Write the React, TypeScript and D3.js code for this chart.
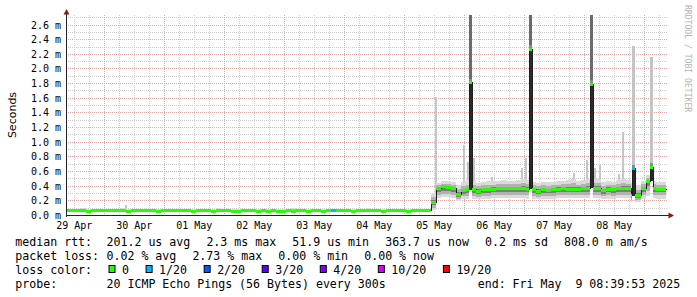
import React from 'react';
import * as d3 from 'd3';

// ---------- data ----------
const START = new Date(2025, 3, 29, 8, 39, 53);
const END = new Date(2025, 4, 9, 8, 39, 53);
const SAMPLE_HOURS = 2;
const Y_MAX = 2.73; // ms

// median rtt per 2h sample (ms)
const medianMs = [
  0.063, 0.062, 0.064, 0.062, 0.061, 0.063, 0.062, 0.064, 0.063, 0.062,
  0.062, 0.063, 0.061, 0.062, 0.064, 0.062, 0.063, 0.062, 0.061, 0.062,
  0.063, 0.062, 0.062, 0.064, 0.063, 0.061, 0.062, 0.063, 0.062, 0.061,
  0.062, 0.063, 0.062, 0.060, 0.061, 0.062, 0.062, 0.063, 0.061, 0.062,
  0.061, 0.062, 0.060, 0.061, 0.062, 0.061, 0.062, 0.063, 0.061, 0.062,
  0.062, 0.061, 0.062, 0.066, 0.062, 0.063, 0.062, 0.061, 0.062, 0.063,
  0.062, 0.063, 0.062, 0.061, 0.062, 0.063, 0.062, 0.062, 0.061, 0.062,
  0.063, 0.062, 0.064, 0.18, 0.37, 0.39, 0.38, 0.37, 0.29, 0.34,
  0.35, 0.35, 0.33, 0.35, 0.35, 0.36, 0.37, 0.37, 0.37, 0.37,
  0.37, 0.37, 0.36, 0.35, 0.33, 0.35, 0.34, 0.35, 0.36, 0.37,
  0.36, 0.36, 0.36, 0.37, 0.37, 0.37, 0.37, 0.34, 0.36, 0.35,
  0.37, 0.37, 0.37, 0.27, 0.27, 0.37, 0.47, 0.37, 0.36, 0.36,
];
const smokeLoMs = [
  0.05, 0.05, 0.05, 0.05, 0.05, 0.05, 0.05, 0.05, 0.05, 0.05,
  0.05, 0.05, 0.05, 0.05, 0.05, 0.05, 0.05, 0.05, 0.05, 0.05,
  0.05, 0.05, 0.05, 0.05, 0.05, 0.05, 0.05, 0.05, 0.05, 0.05,
  0.05, 0.05, 0.05, 0.05, 0.05, 0.05, 0.05, 0.05, 0.05, 0.05,
  0.05, 0.05, 0.05, 0.05, 0.05, 0.05, 0.05, 0.05, 0.05, 0.05,
  0.05, 0.05, 0.05, 0.05, 0.05, 0.05, 0.05, 0.05, 0.05, 0.05,
  0.05, 0.05, 0.05, 0.05, 0.05, 0.05, 0.05, 0.05, 0.05, 0.05,
  0.05, 0.05, 0.05, 0.07, 0.24, 0.25, 0.25, 0.24, 0.2, 0.22,
  0.23, 0.23, 0.22, 0.23, 0.23, 0.24, 0.24, 0.24, 0.24, 0.24,
  0.24, 0.24, 0.23, 0.23, 0.22, 0.23, 0.23, 0.23, 0.24, 0.24,
  0.24, 0.24, 0.24, 0.24, 0.24, 0.24, 0.24, 0.22, 0.23, 0.23,
  0.24, 0.24, 0.24, 0.18, 0.18, 0.23, 0.26, 0.24, 0.23, 0.23,
];
const smokeHiMs = [
  0.09, 0.09, 0.09, 0.1, 0.09, 0.09, 0.09, 0.09, 0.09, 0.09,
  0.09, 0.1, 0.09, 0.09, 0.09, 0.09, 0.09, 0.09, 0.095, 0.09,
  0.09, 0.09, 0.09, 0.09, 0.09, 0.09, 0.09, 0.09, 0.09, 0.09,
  0.1, 0.09, 0.09, 0.09, 0.09, 0.09, 0.09, 0.09, 0.09, 0.09,
  0.09, 0.09, 0.09, 0.09, 0.09, 0.1, 0.09, 0.09, 0.09, 0.09,
  0.09, 0.09, 0.09, 0.095, 0.09, 0.09, 0.09, 0.09, 0.09, 0.09,
  0.1, 0.09, 0.09, 0.09, 0.09, 0.09, 0.09, 0.09, 0.09, 0.09,
  0.09, 0.09, 0.09, 0.3, 0.45, 0.47, 0.47, 0.46, 0.42, 0.46,
  0.48, 0.47, 0.45, 0.46, 0.47, 0.47, 0.47, 0.48, 0.47, 0.47,
  0.48, 0.5, 0.48, 0.46, 0.45, 0.46, 0.46, 0.46, 0.47, 0.47,
  0.48, 0.5, 0.47, 0.48, 0.5, 0.5, 0.5, 0.46, 0.47, 0.46,
  0.48, 0.5, 0.49, 0.45, 0.42, 0.47, 0.55, 0.47, 0.46, 0.46,
];
// number of lost pings per sample (of 20)
const lossCount = [
  0, 0, 0, 0, 0, 0, 0, 0, 0, 0, 0, 0, 0, 0, 0, 0, 0, 0, 0, 0,
  0, 0, 0, 0, 0, 0, 0, 0, 0, 0, 0, 0, 0, 0, 0, 0, 0, 0, 0, 0,
  0, 0, 0, 0, 0, 0, 0, 0, 0, 0, 0, 0, 0, 1, 0, 0, 0, 0, 0, 0,
  0, 0, 0, 0, 0, 0, 0, 0, 0, 0, 0, 0, 0, 0, 0, 0, 0, 0, 0, 0,
  0, 0, 0, 0, 0, 0, 0, 0, 0, 0, 0, 0, 0, 0, 0, 0, 0, 0, 0, 0,
  0, 0, 0, 0, 0, 0, 0, 0, 0, 0, 0, 0, 0, 0, 0, 0, 0, 0, 0, 0,
];

// narrow outlier streaks (hours after start, max ping ms)
const streakHours = [23.6, 147.6, 158.8, 160.4, 162.8, 170.0, 182.0, 183.6, 202.8, 208.0, 211.2, 213.2, 220.8, 222.4];
const streakTopMs = [0.15, 1.62, 0.96, 0.73, 0.78, 0.53, 0.65, 0.78, 0.58, 0.76, 0.65, 0.69, 0.57, 1.14];

// short high-latency spikes (hours after start)
const spikeHours = [161.2, 185.2, 209.4, 226.4, 233.4];
const spikeMedianMs = [1.81, 2.27, 1.79, 0.64, 0.66];
const spikeTopMs = [2.9, 2.9, 2.9, 2.31, 2.16];
const spikeLoss = [0, 0, 0, 1, 0];
const SPIKE_HOURS = 1.2;

const yTickValues = [0, 0.2, 0.4, 0.6, 0.8, 1.0, 1.2, 1.4, 1.6, 1.8, 2.0, 2.2, 2.4, 2.6];

const lossLevels = ['0', '1/20', '2/20', '3/20', '4/20', '10/20', '19/20'];
const lossThresholds = [0, 1, 2, 3, 4, 10, 19];
const lossColors = ['#26ff00', '#00b8ff', '#0059ff', '#5e00ff', '#7e00ff', '#dd00ff', '#ff0000'];

const rttStats = ['201.2 us avg', '2.3 ms max', '51.9 us min', '363.7 us now', '0.2 ms sd', '808.0 m am/s'];
const lossStats = ['0.02 % avg', '2.73 % max', '0.00 % min', '0.00 % now'];
const probeText = '20 ICMP Echo Pings (56 Bytes) every 300s';
const endText = 'end: Fri May  9 08:39:53 2025';

// ---------- layout ----------
const W = 697;
const H = 297;
const X0 = 66, X1 = 666, YB = 215.5, YT = 15.5;
const MONO = '"DejaVu Sans Mono", monospace';
const CH = 6.99; // legend char advance

const lossColor = (n: number) => {
  let c = lossColors[0];
  lossThresholds.forEach((t, i) => { if (n >= t) c = lossColors[i]; });
  return c;
};

type Seg = { a: number; b: number; med: number; lo: number; hi: number; loss: number; spike: boolean; top: number; base: number };

export default function App() {
  const x = d3.scaleTime().domain([START, END]).range([X0, X1]);
  const y = d3.scaleLinear().domain([0, Y_MAX]).range([YB, YT]);
  const hx = (h: number) => x(new Date(START.getTime() + h * 3600e3));
  const crisp = (v: number) => Math.floor(v) + 0.5;

  // segments
  let segs: Seg[] = medianMs.map((m, i) => ({
    a: i * SAMPLE_HOURS, b: (i + 1) * SAMPLE_HOURS, med: m, lo: smokeLoMs[i], hi: smokeHiMs[i],
    loss: lossCount[i], spike: false, top: 0, base: m,
  }));
  spikeHours.forEach((h, k) => {
    const s0 = h, s1 = h + SPIKE_HOURS;
    const baseSeg = segs.find(s => s.a <= s0 && s.b > s0)!;
    const out: Seg[] = [];
    segs.forEach(s => {
      if (s.b <= s0 || s.a >= s1) { out.push(s); return; }
      if (s.a < s0) out.push({ ...s, b: s0 });
      if (s.b > s1) out.push({ ...s, a: s1 });
    });
    out.push({ a: s0, b: s1, med: spikeMedianMs[k], lo: baseSeg.med, hi: spikeTopMs[k], loss: spikeLoss[k], spike: true, top: spikeTopMs[k], base: baseSeg.med });
    segs = out.sort((p, q) => p.a - q.a);
  });

  const baseMedianAt = (h: number) => medianMs[Math.min(medianMs.length - 1, Math.floor(h / SAMPLE_HOURS))];

  // grid
  const minorX = d3.timeHour.every(6)!.range(START, END);
  const majorX = d3.timeDay.range(START, END);
  const minorY = d3.range(1, 28).map(k => k / 10);
  const labelDays = d3.timeDay.range(d3.timeDay.floor(START), END).map(d => d3.timeHour.offset(d, 12)).filter(d => d >= START && d <= END);
  const fmt = d3.timeFormat('%d %b');

  const pts: [number, number][] = [];
  segs.forEach(s => { const yy = crisp(y(s.med)); pts.push([hx(s.a) + 0.5, yy]); pts.push([hx(s.b) + 0.5, yy]); });
  const medPath = d3.line()(pts) || '';

  // legend layout
  const rttX: number[] = [];
  let cx = 106.5;
  rttStats.forEach(s => { rttX.push(cx); cx += s.length * CH + 16; });
  const lossX: number[] = [];
  cx = 106.5;
  lossStats.forEach(s => { lossX.push(cx); cx += s.length * CH + 16; });
  const boxX: number[] = [];
  cx = 108.5;
  lossLevels.forEach(s => { boxX.push(cx); cx += 13.5 + s.length * CH + 16.6; });

  const pre = { whiteSpace: 'pre' as const };

  return (
    <svg width={W} height={H} style={{ position: 'absolute', left: 0, top: 0, background: '#fff' }} xmlns="http://www.w3.org/2000/svg">
      <defs>
        <clipPath id="plot"><rect x={X0} y={15} width={X1 - X0 + 1} height={201} /></clipPath>
      </defs>
      <rect x={0} y={0} width={W} height={H} fill="#fff" />
      {/* grid */}
      <g strokeWidth={1} shapeRendering="crispEdges">
        {minorY.map((v, i) => (
          <line key={'my' + i} x1={X0} x2={X1 + 1} y1={crisp(y(v))} y2={crisp(y(v))} stroke={Math.round(v * 10) % 2 === 0 ? '#e9a3a3' : '#cdcdcd'} strokeDasharray="1,1" />
        ))}
        {minorX.map((d, i) => (
          <line key={'mx' + i} x1={crisp(x(d))} x2={crisp(x(d))} y1={15} y2={YB} stroke="#cdcdcd" strokeDasharray="1,1" />
        ))}
        {majorX.map((d, i) => (
          <line key={'Mx' + i} x1={crisp(x(d))} x2={crisp(x(d))} y1={15} y2={YB} stroke="#e9a3a3" strokeDasharray="1,1" />
        ))}
      </g>
      <g clipPath="url(#plot)" shapeRendering="crispEdges">
        {/* streaks */}
        {streakHours.map((h, i) => (
          <rect key={'st' + i} x={hx(h)} width={2} y={y(streakTopMs[i])} height={y(baseMedianAt(h)) - y(streakTopMs[i])} fill="#c6c6c6" />
        ))}
        {/* smoke */}
        {segs.filter(s => !s.spike).map((s, i) => {
          const x0 = hx(s.a), w = hx(s.b) - x0;
          const lo2 = s.med - (s.med - s.lo) * 0.65, hi2 = s.med + (s.hi - s.med) * 0.55;
          const lo3 = s.med - (s.med - s.lo) * 0.35, hi3 = s.med + (s.hi - s.med) * 0.22;
          return (
            <g key={'sm' + i}>
              <rect x={x0} width={w} y={y(s.hi)} height={y(s.lo) - y(s.hi)} fill="#dadada" />
              <rect x={x0} width={w} y={y(hi2)} height={y(lo2) - y(hi2)} fill="#b2b2b2" />
              <rect x={x0} width={w} y={y(hi3)} height={y(lo3) - y(hi3)} fill="#7c7c7c" />
            </g>
          );
        })}
        {segs.filter(s => s.spike).map((s, i) => {
          const x0 = hx(s.a), w = hx(s.b) - x0;
          const t = Math.min(s.top, Y_MAX + 0.05);
          return (
            <g key={'sp' + i}>
              <rect x={x0} width={w} y={y(t)} height={y(s.med) - y(t)} fill={s.top > Y_MAX ? '#6b6b6b' : '#c4c4c4'} />
              <rect x={x0} width={w} y={y(s.med) - 4} height={4} fill="#8a8a8a" />
              <rect x={x0} width={w} y={y(s.med)} height={y(s.base) - y(s.med)} fill="#2a2a2a" />
            </g>
          );
        })}
      </g>
      <g clipPath="url(#plot)" shapeRendering="crispEdges">
        <path d={medPath} fill="none" stroke="#1e1e1e" strokeWidth={1} />
        {segs.map((s, i) => {
          const yy = Math.floor(y(s.med)) - 1;
          const x0 = hx(s.a);
          return <rect key={'md' + i} x={x0} width={Math.max(1, hx(s.b) - x0)} y={yy} height={3} fill={lossColor(s.loss)} />;
        })}
      </g>
      {/* axes */}
      <g shapeRendering="crispEdges">
        <line x1={X0 + 0.5} x2={X0 + 0.5} y1={YB + 1} y2={13} stroke="#222" />
        <line x1={X0} x2={670} y1={YB} y2={YB} stroke="#222" />
      </g>
      <path d={`M${X0 + 0.5},9 L${X0 - 2.5},14.5 L${X0 + 3.5},14.5 Z`} fill="#8b1a1a" />
      <path d={`M674,${YB} L668.5,${YB - 3} L668.5,${YB + 3} Z`} fill="#8b1a1a" />
      {/* y labels */}
      <g fontFamily={MONO} fontSize={10} fill="#000" textAnchor="end">
        {yTickValues.map((v, i) => (
          <text key={'yl' + i} x={61} y={crisp(y(v)) + 3.6}>{`${v.toFixed(1)} m`}</text>
        ))}
      </g>
      <g fontFamily={MONO} fontSize={10} fill="#000" textAnchor="middle">
        {labelDays.map((d, i) => (
          <text key={'xl' + i} x={x(d)} y={228.5}>{fmt(d)}</text>
        ))}
      </g>
      <text transform="translate(15.5,115) rotate(-90)" textAnchor="middle" fontFamily='"DejaVu Sans", sans-serif' fontSize={11} fill="#000">Seconds</text>
      <text transform="translate(685,5) rotate(90)" fontFamily={MONO} fontSize={8.1} fill="#b4b4b4">RRDTOOL / TOBI OETIKER</text>
      {/* legend */}
      <g fontFamily={MONO} fontSize={11.6} fill="#000">
        <text x={15.3} y={245.5}>median rtt:</text>
        {rttStats.map((s, i) => <text key={'r' + i} x={rttX[i]} y={245.5}>{s}</text>)}
        <text x={15.3} y={259.5}>packet loss:</text>
        {lossStats.map((s, i) => <text key={'l' + i} x={lossX[i]} y={259.5}>{s}</text>)}
        <text x={15.3} y={273.5}>loss color:</text>
        {lossLevels.map((s, i) => (
          <g key={'b' + i}>
            <rect x={boxX[i] + 0.5} y={265.5} width={6} height={7} fill={lossColors[i]} stroke="#000" strokeWidth={1} />
            <text x={boxX[i] + 13.5} y={273.5}>{s}</text>
          </g>
        ))}
        <text x={15.3} y={287.5}>probe:</text>
        <text x={106.5} y={287.5}>{probeText}</text>
        <text x={477.7} y={287.5} xmlSpace="preserve" style={pre}>{endText}</text>
      </g>
    </svg>
  );
}
